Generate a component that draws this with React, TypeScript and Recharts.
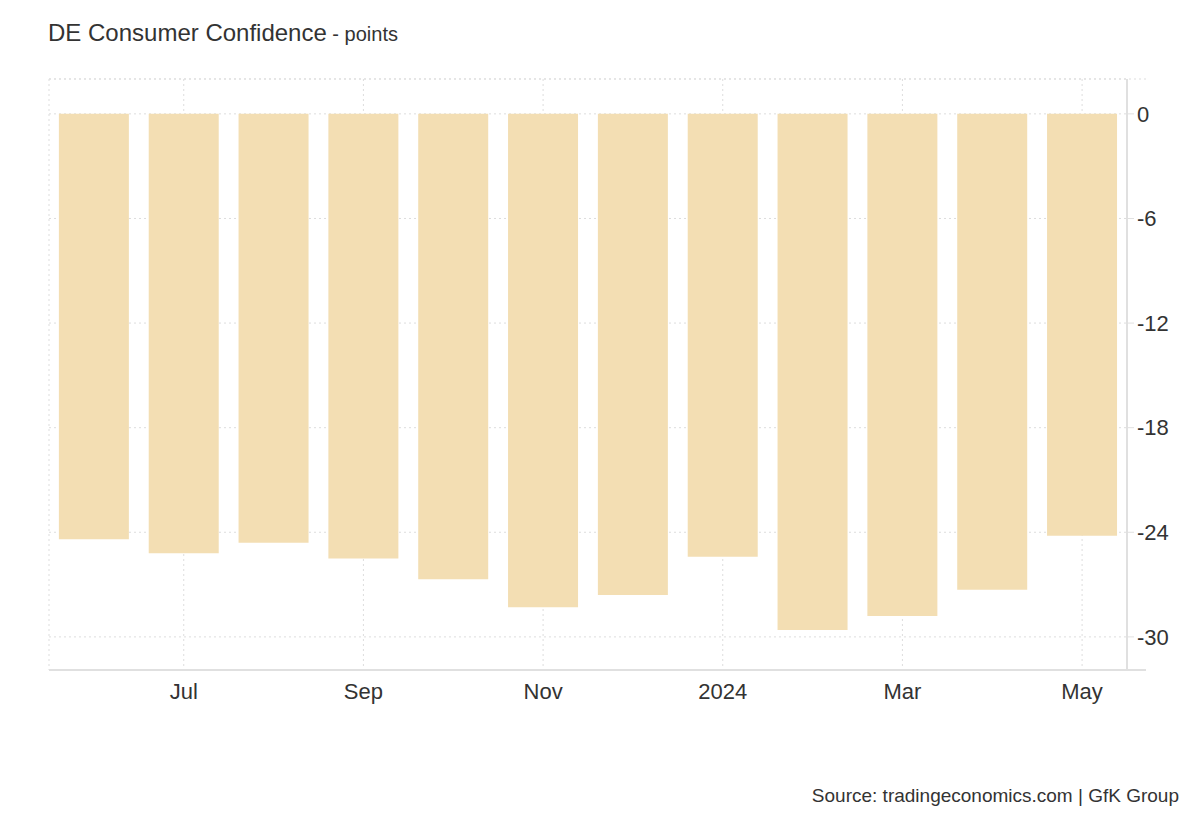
import React from "react";
import { BarChart, Bar, XAxis, YAxis, CartesianGrid } from "recharts";

const months = ["Jun", "Jul", "Aug", "Sep", "Oct", "Nov", "Dec", "2024", "Feb", "Mar", "Apr", "May"];
const values = [-24.4, -25.2, -24.6, -25.5, -26.7, -28.3, -27.6, -25.4, -29.6, -28.8, -27.3, -24.2];
const xTicks = ["Jul", "Sep", "Nov", "2024", "Mar", "May"];
const yTicks = [0, -6, -12, -18, -24, -30];
const yDomain = [-31.9, 2];

const data = months.map((m, i) => ({ m, v: values[i] }));

const W = 1200;
const H = 820;
const M = { top: 79, right: 0, bottom: 110, left: 49 };
const Y_AXIS_W = 73;
const X_AXIS_H = 40;
const EXT = 19;

const FONT = "'Liberation Sans', Arial, sans-serif";
const TXT = "#333333";
const GRID = "#dddddd";
const AXIS = "#e0e0e0";
const BAR = "#F3DEB3";

export default function App() {
  const plotRight = W - M.right - Y_AXIS_W;
  const plotBottom = H - M.bottom - X_AXIS_H;
  return (
    <div style={{ position: "absolute", left: 0, top: 0, width: W, height: H, background: "#fff", fontFamily: FONT }}>
      <BarChart
        width={W}
        height={H}
        data={data}
        margin={M}
        barCategoryGap="11%"
        style={{ fontFamily: FONT }}
      >
        <CartesianGrid stroke={GRID} strokeDasharray="2 3" strokeWidth={1} yAxisId="r" />
        <XAxis
          dataKey="m"
          ticks={xTicks}
          interval={0}
          height={X_AXIS_H}
          tickLine={false}
          tickSize={6}
          tickMargin={7}
          axisLine={{ stroke: AXIS, strokeWidth: 2 }}
          tick={{ fill: TXT, fontSize: 22, fontFamily: FONT }}
        />
        <YAxis
          yAxisId="l"
          orientation="left"
          width={0}
          domain={yDomain}
          type="number"
          allowDataOverflow
          tick={false}
          tickLine={false}
          axisLine={{ stroke: AXIS, strokeWidth: 2 }}
        />
        <YAxis
          yAxisId="r"
          orientation="right"
          width={Y_AXIS_W}
          domain={yDomain}
          type="number"
          allowDataOverflow
          ticks={yTicks}
          interval={0}
          tickSize={7}
          tickMargin={3}
          tickLine={{ stroke: AXIS }}
          axisLine={{ stroke: AXIS, strokeWidth: 2 }}
          tick={{ fill: TXT, fontSize: 22, fontFamily: FONT, textAnchor: "start" }}
        />
        <Bar dataKey="v" yAxisId="r" fill={BAR} isAnimationActive={false} />
      </BarChart>
      <svg
        width={W}
        height={H}
        style={{ position: "absolute", left: 0, top: 0, pointerEvents: "none" }}
      >
        <line x1={M.left} x2={plotRight + EXT} y1={M.top} y2={M.top} stroke={GRID} strokeDasharray="2 3" />
        <line x1={plotRight} x2={plotRight + EXT} y1={plotBottom} y2={plotBottom} stroke={AXIS} strokeWidth={2} />
        <text x={48} y={41} fontFamily={FONT} fill={TXT}>
          <tspan fontSize={24}>DE Consumer Confidence</tspan>
          <tspan fontSize={20}> - points</tspan>
        </text>
        <text x={1179} y={802} fontFamily={FONT} fontSize={19} fill={TXT} textAnchor="end">
          Source: tradingeconomics.com | GfK Group
        </text>
      </svg>
    </div>
  );
}
